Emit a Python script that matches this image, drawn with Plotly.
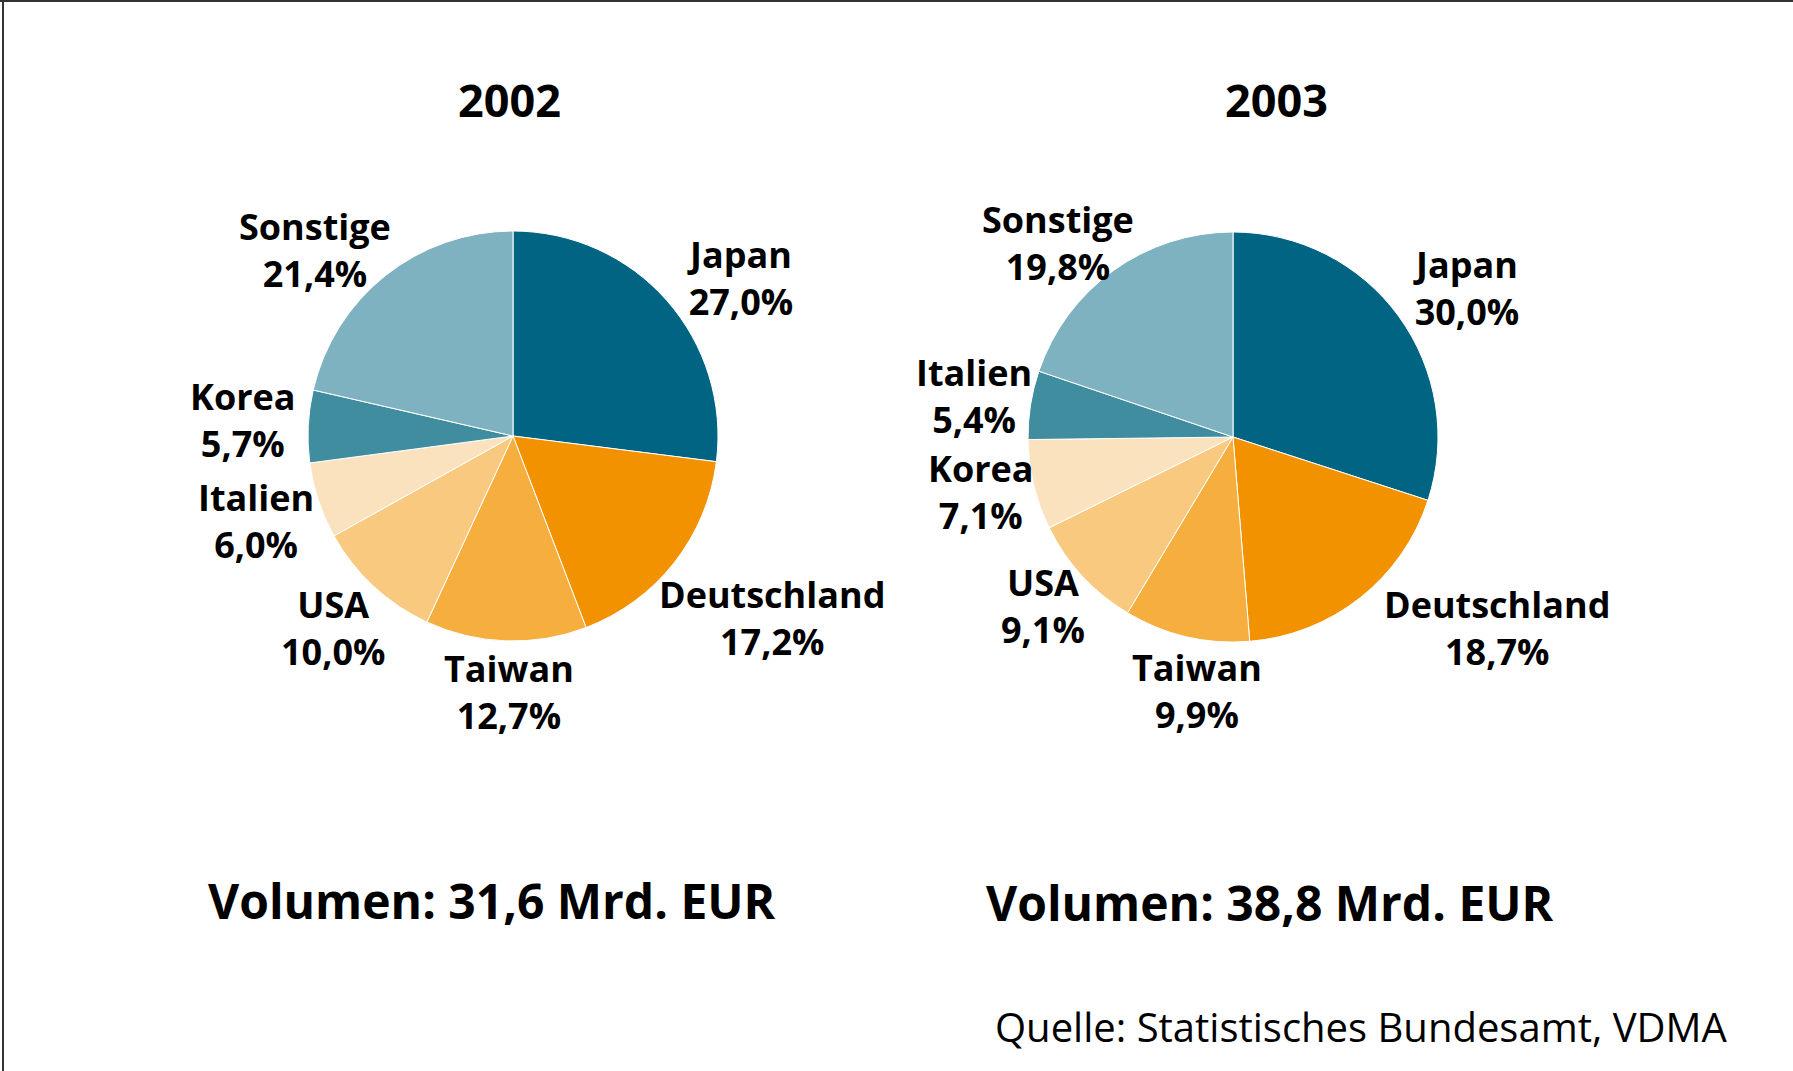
import plotly.graph_objects as go

W, H = 1793, 1071

# ---- data ----
years = ["2002", "2003"]
labels_2002 = ["Japan", "Deutschland", "Taiwan", "USA", "Italien", "Korea", "Sonstige"]
values_2002 = [27.0, 17.2, 12.7, 10.0, 6.0, 5.7, 21.4]
labels_2003 = ["Japan", "Deutschland", "Taiwan", "USA", "Korea", "Italien", "Sonstige"]
values_2003 = [30.0, 18.7, 9.9, 9.1, 7.1, 5.4, 19.8]
volumes = ["Volumen: 31,6 Mrd. EUR", "Volumen: 38,8 Mrd. EUR"]
source = "Quelle: Statistisches Bundesamt, VDMA"

slice_colors = ["#006482", "#F39200", "#F6AE3F", "#F8C97E", "#FAE2BF", "#408DA0", "#7FB2C0"]

# ---- layout (pixel positions) ----
pie_centers = [(513, 436), (1233, 437)]
pie_radius = 205
title_pos = [(509, 99), (1276, 99)]
volume_pos = [(492, 900), (1270, 902)]
# (x, y) of the two-line label block centre per slice, pixels from top-left
label_pos_2002 = [
    (740, 278),   # Japan
    (772, 618),   # Deutschland
    (509, 692),   # Taiwan
    (333, 628),   # USA
    (256, 521),   # Italien
    (243, 420),   # Korea
    (315, 250),   # Sonstige
]
label_pos_2003 = [
    (1466, 288),  # Japan
    (1497, 628),  # Deutschland
    (1197, 691),  # Taiwan
    (1043, 606),  # USA
    (981, 492),   # Korea
    (974, 396),   # Italien
    (1058, 243),  # Sonstige
]

FONT = "Open Sans"


def px(x):
    return x / W


def py(y):
    return 1 - y / H


def fmt(v):
    return f"{v:.1f}".replace(".", ",") + "%"


fig = go.Figure()
annotations = []

for (cx, cy), labels, values, lpos in zip(
    pie_centers,
    [labels_2002, labels_2003],
    [values_2002, values_2003],
    [label_pos_2002, label_pos_2003],
):
    fig.add_trace(
        go.Pie(
            labels=labels,
            values=values,
            sort=False,
            direction="clockwise",
            rotation=0,
            marker=dict(colors=slice_colors, line=dict(color="white", width=1)),
            textinfo="none",
            hoverinfo="label+percent",
            showlegend=False,
            domain=dict(
                x=[px(cx - pie_radius), px(cx + pie_radius)],
                y=[py(cy + pie_radius), py(cy - pie_radius)],
            ),
        )
    )
    for lab, val, (lx, ly) in zip(labels, values, lpos):
        annotations.append(dict(
            x=px(lx), y=py(ly), xref="paper", yref="paper",
            text=f"<b>{lab}</b><br><b>{fmt(val)}</b>",
            showarrow=False, xanchor="center", yanchor="middle", align="center",
            borderpad=0,
            font=dict(family=FONT, size=36, color="black")))

for yr, (tx, ty) in zip(years, title_pos):
    annotations.append(dict(
        x=px(tx), y=py(ty), xref="paper", yref="paper", text=f"<b>{yr}</b>",
        showarrow=False, xanchor="center", yanchor="middle",
        font=dict(family=FONT, size=45, color="black")))

for vt, (vx, vy) in zip(volumes, volume_pos):
    annotations.append(dict(
        x=px(vx), y=py(vy), xref="paper", yref="paper", text=f"<b>{vt}</b>",
        showarrow=False, xanchor="center", yanchor="middle",
        font=dict(family=FONT, size=48, color="black")))

annotations.append(dict(
    x=px(1730), y=py(1026), xref="paper", yref="paper", text=source,
    showarrow=False, xanchor="right", yanchor="middle",
    font=dict(family=FONT, size=40, color="black")))

shapes = [
    dict(type="line", xref="paper", yref="paper", x0=0, x1=1, y0=py(1), y1=py(1),
         line=dict(color="#333333", width=2)),
    dict(type="line", xref="paper", yref="paper", x0=px(3), x1=px(3), y0=0, y1=1,
         line=dict(color="#333333", width=2)),
]

fig.update_layout(
    width=W, height=H,
    margin=dict(l=0, r=0, t=0, b=0),
    paper_bgcolor="white",
    plot_bgcolor="white",
    annotations=annotations,
    shapes=shapes,
)

fig.write_html(
    "out.html",
    config={"displayModeBar": False},
    post_script="document.body.style.margin='0px';document.body.style.overflow='hidden';",
)
